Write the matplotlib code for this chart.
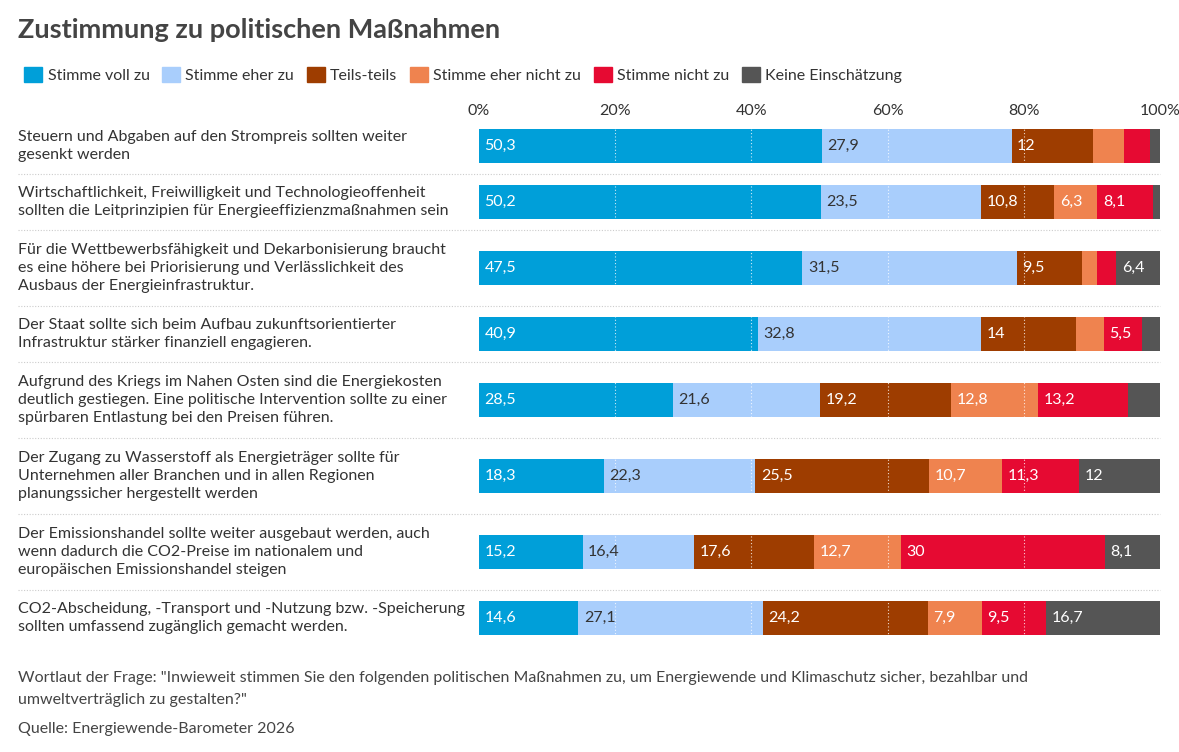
import matplotlib
matplotlib.use("Agg")
import matplotlib.pyplot as plt
from matplotlib.lines import Line2D
from matplotlib.patches import Patch

plt.rcParams['font.family'] = ['Lato', 'DejaVu Sans']

categories = [
    "Steuern und Abgaben auf den Strompreis sollten weiter\ngesenkt werden",
    "Wirtschaftlichkeit, Freiwilligkeit und Technologieoffenheit\nsollten die Leitprinzipien für Energieeffizienzmaßnahmen sein",
    "Für die Wettbewerbsfähigkeit und Dekarbonisierung braucht\nes eine höhere bei Priorisierung und Verlässlichkeit des\nAusbaus der Energieinfrastruktur.",
    "Der Staat sollte sich beim Aufbau zukunftsorientierter\nInfrastruktur stärker finanziell engagieren.",
    "Aufgrund des Kriegs im Nahen Osten sind die Energiekosten\ndeutlich gestiegen. Eine politische Intervention sollte zu einer\nspürbaren Entlastung bei den Preisen führen.",
    "Der Zugang zu Wasserstoff als Energieträger sollte für\nUnternehmen aller Branchen und in allen Regionen\nplanungssicher hergestellt werden",
    "Der Emissionshandel sollte weiter ausgebaut werden, auch\nwenn dadurch die CO2-Preise im nationalem und\neuropäischen Emissionshandel steigen",
    "CO2-Abscheidung, -Transport und -Nutzung bzw. -Speicherung\nsollten umfassend zugänglich gemacht werden.",
]
series = ["Stimme voll zu", "Stimme eher zu", "Teils-teils", "Stimme eher nicht zu", "Stimme nicht zu", "Keine Einschätzung"]
voll      = [50.3, 50.2, 47.5, 40.9, 28.5, 18.3, 15.2, 14.6]
eher      = [27.9, 23.5, 31.5, 32.8, 21.6, 22.3, 16.4, 27.1]
teils     = [12.0, 10.8, 9.5, 14.0, 19.2, 25.5, 17.6, 24.2]
ehernicht = [4.5, 6.3, 2.2, 4.1, 12.8, 10.7, 12.7, 7.9]
nicht     = [3.8, 8.1, 2.9, 5.5, 13.2, 11.3, 30.0, 9.5]
keine     = [1.5, 1.1, 6.4, 2.7, 4.7, 12.0, 8.1, 16.7]
data = [voll, eher, teils, ehernicht, nicht, keine]
colors = ["#009fd9", "#a9cefc", "#9e3d00", "#ef834f", "#e60a32", "#555555"]
txtcol = ["white", "#333333", "white", "white", "white", "white"]

# row layout (pixel units) derived from label line counts
TOP, BOT = 118, 647
heights = [20*(c.count("\n")+1)+16 for c in categories]
centers, bounds, y = [], [], TOP
for h in heights:
    centers.append(y + h/2)
    y += h
    bounds.append(y)

fig = plt.figure(figsize=(11.79, 7.52), dpi=100)
ax = fig.add_axes([479/1179, 1-BOT/752, 681/1179, (BOT-TOP)/752])
n = len(categories)
left = [0]*n
for s, vals in enumerate(data):
    ax.barh(centers, vals, left=left, height=34, color=colors[s], zorder=2)
    for i, v in enumerate(vals):
        if v >= 5:
            ax.text(left[i]+0.8, centers[i], f"{v:g}".replace('.', ','), va='center', ha='left',
                    color=txtcol[s], fontsize=11.5, zorder=4)
    left = [l+v for l, v in zip(left, vals)]
ax.set_xlim(0, 100)
ax.set_ylim(BOT, TOP)
for x in [20, 40, 60, 80]:
    ax.axvline(x, color='white', lw=0.8, ls=(0, (1, 2)), zorder=3, alpha=0.8)
ax.set_yticks([])
ax.xaxis.tick_top()
ax.set_xticks([0, 20, 40, 60, 80, 100])
ax.set_xticklabels([f"{t}%" for t in [0, 20, 40, 60, 80, 100]], fontsize=11.5, color='#333333')
ax.tick_params(axis='x', length=0, pad=0)
for sp in ax.spines.values():
    sp.set_visible(False)

for i, c in enumerate(categories):
    fig.text(18/1179, 1-centers[i]/752, c, ha='left', va='center', fontsize=11.5, color='#333333', linespacing=1.35)
    if i < n-1:
        ys = 1-bounds[i]/752
        fig.add_artist(Line2D([18/1179, 1160/1179], [ys, ys], color='#cccccc', lw=0.8, ls=(0, (1, 1.5))))

fig.text(18/1179, 1-30/752, "Zustimmung zu politischen Maßnahmen", fontsize=19.5, fontweight='bold',
         color='#444444', va='center')
handles = [Patch(color=c) for c in colors]
fig.legend(handles, series, loc='center left', bbox_to_anchor=(10/1179, 1-75/752), ncol=6, frameon=False,
           fontsize=11.5, handlelength=1.1, handleheight=1.1, handletextpad=0.35, columnspacing=0.8,
           labelcolor='#333333')
fig.text(18/1179, 1-678/752, 'Wortlaut der Frage: "Inwieweit stimmen Sie den folgenden politischen Maßnahmen zu, um Energiewende und Klimaschutz sicher, bezahlbar und', fontsize=11.5, color='#444444', va='center')
fig.text(18/1179, 1-700/752, 'umweltverträglich zu gestalten?"', fontsize=11.5, color='#444444', va='center')
fig.text(18/1179, 1-729/752, 'Quelle: Energiewende-Barometer 2026', fontsize=11.5, color='#444444', va='center')
fig.savefig("out.png", dpi=100)
